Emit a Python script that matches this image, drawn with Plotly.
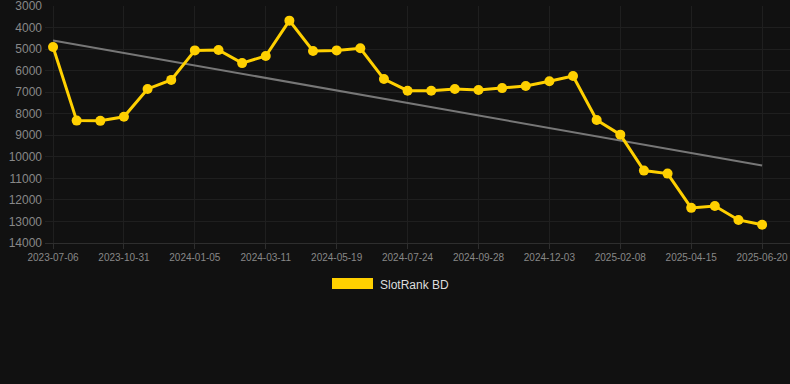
import numpy as np
import plotly.graph_objects as go

dates = [
    "2023-07-06", "2023-08-20", "2023-09-25", "2023-10-31", "2023-11-22", "2023-12-14",
    "2024-01-05", "2024-01-27", "2024-02-18", "2024-03-11", "2024-04-03", "2024-04-26",
    "2024-05-19", "2024-06-10", "2024-07-02", "2024-07-24", "2024-08-15", "2024-09-06",
    "2024-09-28", "2024-10-20", "2024-11-11", "2024-12-03", "2024-12-25", "2025-01-17",
    "2025-02-08", "2025-03-02", "2025-03-24", "2025-04-15", "2025-05-07", "2025-05-29",
    "2025-06-20",
]
rank = [
    4900, 8320, 8330, 8140, 6850, 6430, 5060, 5040, 5650, 5320, 3680, 5090,
    5060, 4960, 6390, 6930, 6930, 6850, 6900, 6810, 6710, 6490, 6250, 8290,
    8970, 10640, 10780, 12370, 12280, 12930, 13150,
]
tick_labels = dates[::3]
y_ticks = list(range(3000, 14001, 1000))
series_name = "SlotRank BD"

# linear trend of the series
idx = np.arange(len(rank))
slope, intercept = np.polyfit(idx, rank, 1)
trend = (slope * idx + intercept).tolist()

YELLOW = "#FFD000"
BG = "#111111"
GRID = "#1f1f1f"
FONT = "Liberation Sans, Arial, sans-serif"

fig = go.Figure()
fig.add_trace(go.Scatter(
    x=dates, y=trend, mode="lines",
    line=dict(color="#777777", width=2),
    showlegend=False, hoverinfo="skip",
))
fig.add_trace(go.Scatter(
    x=dates, y=rank, mode="lines+markers", name=series_name,
    line=dict(color=YELLOW, width=3),
    marker=dict(color=YELLOW, size=10),
    showlegend=False,
))

# legend drawn manually (wide rectangle swatch)
fig.add_shape(type="rect", xref="paper", yref="paper",
              x0=(332 - 45) / 745, x1=(373 - 45) / 745,
              y0=(243 - 289) / 237, y1=(243 - 278) / 237,
              fillcolor=YELLOW, line=dict(width=0))
fig.add_annotation(xref="paper", yref="paper",
                   x=(378 - 45) / 745, y=(243 - 284.5) / 237,
                   xanchor="left", yanchor="middle", showarrow=False,
                   text=series_name, font=dict(family=FONT, size=12, color="#dddddd"))

fig.update_layout(
    width=790, height=384,
    paper_bgcolor=BG, plot_bgcolor=BG,
    margin=dict(l=45, r=0, t=6, b=141),
    font=dict(family=FONT, color="#888888"),
    showlegend=False,
)
fig.update_xaxes(
    type="category",
    categoryorder="array", categoryarray=dates,
    range=[-0.34, 31.18],
    tickvals=tick_labels, ticktext=tick_labels,
    tickfont=dict(size=10, color="#888888"),
    showgrid=True, gridcolor=GRID, gridwidth=1,
    showline=True, linecolor="#2e2e2e", linewidth=1,
    ticks="outside", ticklen=5, tickcolor="#2e2e2e",
    zeroline=False,
)
fig.update_yaxes(
    range=[14000.5, 2999.5],
    tickvals=y_ticks, ticktext=[str(v) for v in y_ticks],
    tickfont=dict(size=12, color="#888888"),
    showgrid=True, gridcolor=GRID, gridwidth=1,
    zeroline=False, ticks="", ticklabelstandoff=2,
    ticklabeloverflow="allow",
)

fig.write_html(
    "out.html",
    config={"displayModeBar": False},
    post_script="document.body.style.margin='0';document.body.style.background='#111111';",
)
